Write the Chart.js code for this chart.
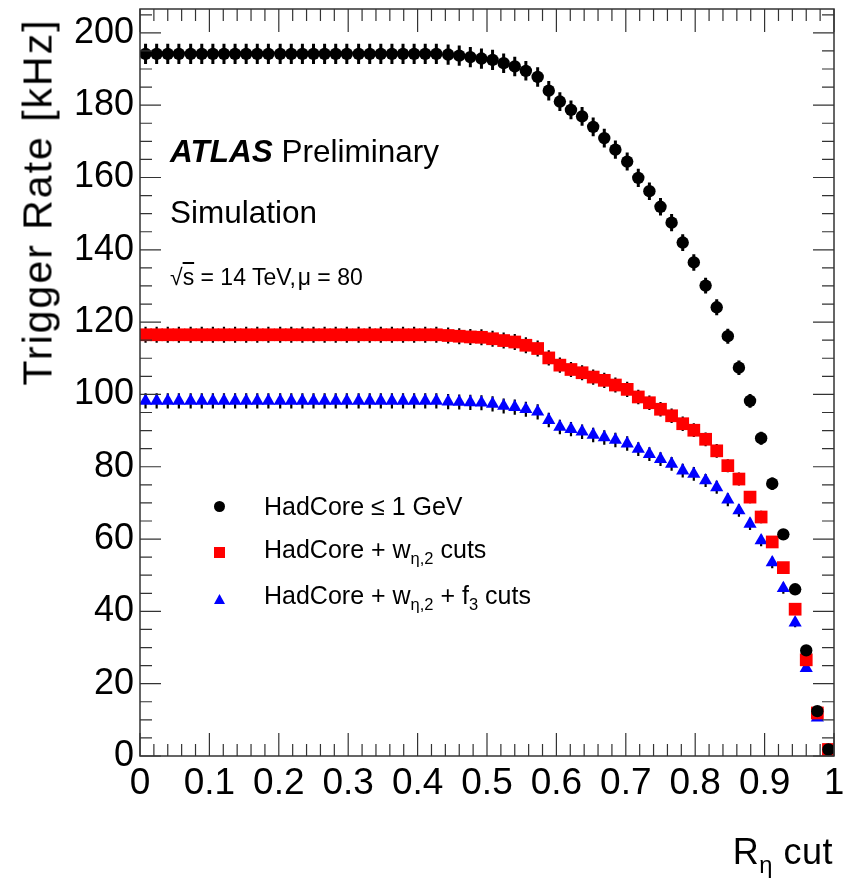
<!DOCTYPE html>
<html>
<head>
<meta charset="utf-8">
<script src="https://cdn.jsdelivr.net/npm/chart.js@4.4.1/dist/chart.umd.min.js"></script>
<style>
html,body{margin:0;padding:0;background:#fff;}
#wrap{position:relative;width:848px;height:889px;overflow:hidden;font-family:"Liberation Sans",Arial,Helvetica,sans-serif;color:#000;}
#c{position:absolute;left:0;top:0;}
.t{position:absolute;white-space:nowrap;line-height:1;}
.s{font-size:0.66em;position:relative;top:0.38em;}
.mk{position:absolute;}
</style>
</head>
<body>
<div id="wrap">
<canvas id="c" width="848" height="889"></canvas>
<div class="t" style="left:170px;top:136px;font-size:31.5px;"><b><i>ATLAS</i></b> Preliminary</div>
<div class="t" style="left:170px;top:197px;font-size:31.5px;">Simulation</div>
<div class="t" style="left:170px;top:266px;font-size:23px;">&radic;<span style="text-decoration:overline">s</span> = 14 TeV,&#8202;&mu; = 80</div>

<div class="mk" style="left:214px;top:501px;width:11px;height:11px;border-radius:50%;background:#000;"></div>
<div class="mk" style="left:214px;top:547px;width:11px;height:11px;background:#f00;"></div>
<div class="mk" style="left:214px;top:594px;width:11px;height:10px;background:#00f;clip-path:polygon(50% 0,100% 100%,0 100%);"></div>
<div class="t" style="left:264px;top:494px;font-size:25px;">HadCore &le; 1 GeV</div>
<div class="t" style="left:264px;top:537px;font-size:25px;">HadCore + w<span class="s">&eta;,2</span> cuts</div>
<div class="t" style="left:264px;top:583px;font-size:25px;">HadCore + w<span class="s">&eta;,2</span> + f<span class="s">3</span> cuts</div>

<div class="t" style="right:15px;top:834px;font-size:36px;letter-spacing:0.5px;">R<span class="s">&eta;</span> cut</div>
<div class="t" style="left:38px;top:202px;font-size:41px;letter-spacing:2px;transform:translate(-50%,-50%) rotate(-90deg);">Trigger Rate [kHz]</div>
</div>
<script>
// ---- data ----
const xValues = [0.008,0.024,0.040,0.056,0.073,0.089,0.105,0.121,0.137,0.153,0.169,0.185,0.202,0.218,0.234,0.250,0.266,0.282,0.298,0.315,0.331,0.347,0.363,0.379,0.395,0.411,0.427,0.444,0.460,0.476,0.492,0.508,0.524,0.540,0.556,0.573,0.589,0.605,0.621,0.637,0.653,0.669,0.685,0.702,0.718,0.734,0.750,0.766,0.782,0.798,0.815,0.831,0.847,0.863,0.879,0.895,0.911,0.927,0.944,0.960,0.976,0.992];

const hadCore = [194.2,194.2,194.2,194.2,194.2,194.2,194.2,194.2,194.2,194.2,194.2,194.2,194.2,194.2,194.2,194.2,194.2,194.2,194.2,194.2,194.2,194.2,194.2,194.2,194.2,194.2,194.2,194.0,193.7,193.3,
192.9,192.5,191.6,190.7,189.5,187.8,184.0,181.0,178.7,176.9,174.0,170.9,167.7,164.4,159.9,156.2,151.9,147.5,142.0,136.5,130.1,124.1,116.1,107.4,98.2,87.9,75.3,61.3,46.1,29.2,12.4,1.8];
const hadCoreErr = [2.8,2.8,2.8,2.8,2.8,2.8,2.8,2.8,2.8,2.8,2.8,2.8,2.8,2.8,2.8,2.8,2.8,2.8,2.8,2.8,2.8,2.8,2.8,2.8,2.8,2.8,2.8,2.8,2.8,2.8,
2.8,2.8,2.7,2.7,2.7,2.7,2.7,2.6,2.6,2.6,2.6,2.6,2.5,2.5,2.5,2.4,2.4,2.4,2.3,2.3,2.2,2.2,2.1,2.0,1.9,1.8,1.7,1.5,1.3,1.0,0.7,0.3];

const hadCoreW = [116.5,116.5,116.5,116.5,116.5,116.5,116.5,116.5,116.5,116.5,116.5,116.5,116.5,116.5,116.5,116.5,116.5,116.5,116.5,116.5,116.5,116.5,116.5,116.5,116.5,116.5,116.5,116.3,116.1,115.9,
115.8,115.4,114.9,114.5,113.6,112.7,110.1,108.1,106.9,106.0,104.8,103.9,102.6,101.4,99.3,97.7,95.9,94.1,91.9,90.1,87.6,84.4,80.3,76.6,71.6,66.1,59.2,52.1,40.6,26.6,11.9,1.8];
const hadCoreWErr = [2.2,2.2,2.2,2.2,2.2,2.2,2.2,2.2,2.2,2.2,2.2,2.2,2.2,2.2,2.2,2.2,2.2,2.2,2.2,2.2,2.2,2.2,2.2,2.2,2.2,2.2,2.2,2.2,2.2,2.2,
2.2,2.2,2.2,2.2,2.2,2.2,2.1,2.1,2.1,2.1,2.1,2.1,2.1,2.1,2.0,2.0,2.0,2.0,2.0,1.9,1.9,1.9,1.8,1.8,1.7,1.7,1.6,1.5,1.3,1.0,0.7,0.3];

const hadCoreWF3 = [98.2,98.2,98.2,98.2,98.2,98.2,98.2,98.2,98.2,98.2,98.2,98.2,98.2,98.2,98.2,98.2,98.2,98.2,98.2,98.2,98.2,98.2,98.2,98.2,98.2,98.2,98.2,98.0,97.9,97.8,
97.7,97.4,96.8,96.5,95.9,95.2,92.9,91.0,90.4,89.7,88.8,88.1,87.4,86.4,84.9,83.5,82.1,80.8,78.9,78.0,76.2,74.3,70.9,67.9,64.2,59.6,53.5,46.4,36.9,24.3,10.6,1.4];
const hadCoreWF3Err = [2.1,2.1,2.1,2.1,2.1,2.1,2.1,2.1,2.1,2.1,2.1,2.1,2.1,2.1,2.1,2.1,2.1,2.1,2.1,2.1,2.1,2.1,2.1,2.1,2.1,2.1,2.1,2.1,2.1,2.1,
2.1,2.1,2.1,2.1,2.1,2.1,2.0,2.0,2.0,2.0,2.0,2.0,2.0,2.0,1.9,1.9,1.9,1.9,1.9,1.9,1.8,1.8,1.8,1.7,1.7,1.6,1.6,1.5,1.3,1.0,0.6,0.3];

const xTicks = [0,0.1,0.2,0.3,0.4,0.5,0.6,0.7,0.8,0.9,1];
const xTickLabels = ['0','0.1','0.2','0.3','0.4','0.5','0.6','0.7','0.8','0.9','1'];
const yTicks = [0,20,40,60,80,100,120,140,160,180,200];
const yTickLabels = ['0','20','40','60','80','100','120','140','160','180','200'];

// ---- plugins ----
const errorBars = {
  id: 'errorBars',
  beforeDatasetsDraw(chart) {
    const {ctx, scales: {x, y}} = chart;
    ctx.save();
    ctx.strokeStyle = '#000';
    chart.data.datasets.forEach(ds => {
      ctx.lineWidth = ds.errWidth || 2;
      ctx.beginPath();
      ds.data.forEach((p, i) => {
        const e = ds.errors[i];
        const px = x.getPixelForValue(p.x);
        ctx.moveTo(px, y.getPixelForValue(p.y - e));
        ctx.lineTo(px, y.getPixelForValue(p.y + e));
      });
      ctx.stroke();
    });
    ctx.restore();
  }
};

const rootFrame = {
  id: 'rootFrame',
  afterDraw(chart) {
    const {ctx, chartArea: a, scales: {x, y}} = chart;
    ctx.save();
    ctx.strokeStyle = '#333';
    ctx.lineWidth = 1.5;
    ctx.strokeRect(a.left, a.top, a.right - a.left, a.bottom - a.top);
    ctx.lineWidth = 1.2;
    ctx.beginPath();
    for (let k = 0; k <= 50; k++) {
      const v = k * 0.02;
      const px = x.getPixelForValue(v);
      const L = (k % 5 === 0) ? 23 : 12;
      ctx.moveTo(px, a.bottom); ctx.lineTo(px, a.bottom - L);
      ctx.moveTo(px, a.top); ctx.lineTo(px, a.top + L);
    }
    for (let k = 0; k <= 41; k++) {
      const v = k * 5;
      const py = y.getPixelForValue(v);
      const L = (k % 4 === 0) ? 21 : 12;
      ctx.moveTo(a.left, py); ctx.lineTo(a.left + L, py);
      ctx.moveTo(a.right, py); ctx.lineTo(a.right - L, py);
    }
    ctx.stroke();
    ctx.restore();
  }
};

const toPoints = vals => vals.map((v, i) => ({x: xValues[i], y: v}));

new Chart(document.getElementById('c'), {
  type: 'scatter',
  data: {
    datasets: [
      {label: 'HadCore \u2264 1 GeV', data: toPoints(hadCore), errors: hadCoreErr, errWidth: 3,
       pointStyle: 'circle', pointRadius: 6.2, backgroundColor: '#000', borderColor: '#000', borderWidth: 0},
      {label: 'HadCore + w\u03b7,2 cuts', data: toPoints(hadCoreW), errors: hadCoreWErr, errWidth: 2.2,
       pointStyle: 'rect', pointRadius: 9, backgroundColor: '#ff0000', borderColor: '#ff0000', borderWidth: 0},
      {label: 'HadCore + w\u03b7,2 + f3 cuts', data: toPoints(hadCoreWF3), errors: hadCoreWF3Err, errWidth: 2.2,
       pointStyle: 'triangle', pointRadius: 7.6, backgroundColor: '#0000ff', borderColor: '#0000ff', borderWidth: 0}
    ]
  },
  options: {
    responsive: false,
    animation: false,
    devicePixelRatio: 1,
    layout: {padding: {left: 0, right: 14, top: 6, bottom: 0}},
    plugins: {legend: {display: false}, tooltip: {enabled: false}},
    scales: {
      x: {
        type: 'linear', min: 0, max: 1,
        grid: {display: false, drawTicks: false},
        border: {display: false},
        afterBuildTicks: s => { s.ticks = xTicks.map(v => ({value: v})); },
        afterFit: s => { s.height = 133; s.paddingLeft = 0; s.paddingRight = 0; },
        ticks: {
          autoSkip: false, maxRotation: 0, padding: 6, color: '#000',
          font: {family: '"Liberation Sans", Arial, sans-serif', size: 37},
          callback: (v, i) => xTickLabels[i]
        }
      },
      y: {
        type: 'linear', min: 0, max: 206.6,
        grid: {display: false, drawTicks: false},
        border: {display: false},
        afterBuildTicks: s => { s.ticks = yTicks.map(v => ({value: v})); },
        afterFit: s => { s.width = 140; s.paddingTop = 0; s.paddingBottom = 0; },
        ticks: {
          autoSkip: false, padding: 6, color: '#000',
          font: {family: '"Liberation Sans", Arial, sans-serif', size: 36},
          callback: (v, i) => yTickLabels[i]
        }
      }
    }
  },
  plugins: [errorBars, rootFrame]
});
</script>
</body>
</html>
